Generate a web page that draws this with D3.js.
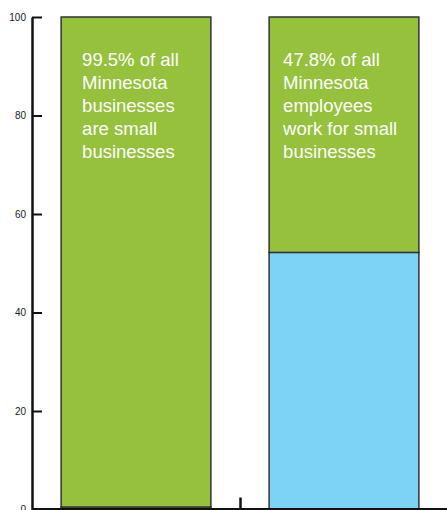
<!DOCTYPE html>
<html>
<head>
<meta charset="utf-8">
<script src="https://cdn.jsdelivr.net/npm/d3@7"></script>
<style>
  html, body { margin: 0; padding: 0; background: #fff; }
  svg { display: block; font-family: "Liberation Sans", Arial, sans-serif; }
</style>
</head>
<body>
<div id="chart"></div>
<script>
// share of Minnesota total, in percent
var categories = ["Businesses", "Employees"];
var smallShare = [99.5, 47.8];
var largeShare = [0.5, 52.2];
var yTicks = [0, 20, 40, 60, 80, 100];
var notes = [
    ["99.5% of all", "Minnesota", "businesses", "are small", "businesses"],
    ["47.8% of all", "Minnesota", "employees", "work for small", "businesses"]
];

var width = 447,
    height = 510,
    marginLeft = 32,
    plotTop = 17,
    plotBottom = 509.5;

var svg = d3.select('#chart')
    .append('svg')
    .attr('width', width)
    .attr('height', height);

var x = d3.scaleBand()
    .domain(categories)
    .range([marginLeft, 448])
    .paddingInner(0.28)
    .paddingOuter(0.14);

var y = d3.scaleLinear()
    .domain([0, 100])
    .range([plotBottom, plotTop]);

var rows = categories.map(function(c, i) {
    return { cat: c, large: largeShare[i], small: smallShare[i] };
});

var series = d3.stack().keys(['large', 'small'])(rows);
var colour = { large: '#7dd3f5', small: '#95c13d' };

svg.selectAll('g.layer')
    .data(series)
    .enter().append('g')
    .attr('class', 'layer')
    .attr('fill', function(d) { return colour[d.key]; })
    .selectAll('rect')
    .data(function(d) { return d; })
    .enter().append('rect')
    .attr('x', function(d) { return x(d.data.cat); })
    .attr('y', function(d) { return y(d[1]); })
    .attr('width', x.bandwidth())
    .attr('height', function(d) { return y(d[0]) - y(d[1]); })
    .attr('stroke', '#333')
    .attr('stroke-width', 1.5);

// labels in the green part (second one sits a bit closer to its edge)
var textInset = function(i) { return i === 0 ? 21 : 14; };

svg.selectAll('text.note')
    .data(notes)
    .enter().append('text')
    .attr('class', 'note')
    .attr('fill', '#fff')
    .attr('font-size', 18.5)
    .selectAll('tspan')
    .data(function(d, i) {
        return d.map(function(line) { return { line: line, cat: categories[i], i: i }; });
    })
    .enter().append('tspan')
    .attr('x', function(d) { return x(d.cat) + textInset(d.i); })
    .attr('y', function(d, j) { return y(100) + 49 + j * 23; })
    .text(function(d) { return d.line; });

// axes
var yAxis = d3.axisLeft(y)
    .tickValues(yTicks)
    .tickSizeInner(-10)
    .tickSizeOuter(0)
    .tickPadding(6);

var gy = svg.append('g')
    .attr('transform', 'translate(' + marginLeft + ',0)')
    .call(yAxis);

gy.select('.domain').attr('stroke', '#111').attr('stroke-width', 2.5);
gy.selectAll('.tick line').attr('stroke', '#111').attr('stroke-width', 2);
gy.selectAll('.tick text')
    .attr('fill', '#222')
    .attr('font-size', 10)
    .attr('font-family', '"Liberation Sans", Arial, sans-serif');

var xEdge = d3.scaleLinear().domain([0, categories.length]).range([marginLeft, 448]);
var xAxis = d3.axisBottom(xEdge)
    .tickValues([1])
    .tickSizeInner(-11)
    .tickSizeOuter(0)
    .tickFormat('');

var gx = svg.append('g')
    .attr('transform', 'translate(0,' + (plotBottom - 1) + ')')
    .call(xAxis);

gx.select('.domain').attr('stroke', '#111').attr('stroke-width', 2);
gx.selectAll('.tick line').attr('stroke', '#111').attr('stroke-width', 2.5);
</script>
</body>
</html>
